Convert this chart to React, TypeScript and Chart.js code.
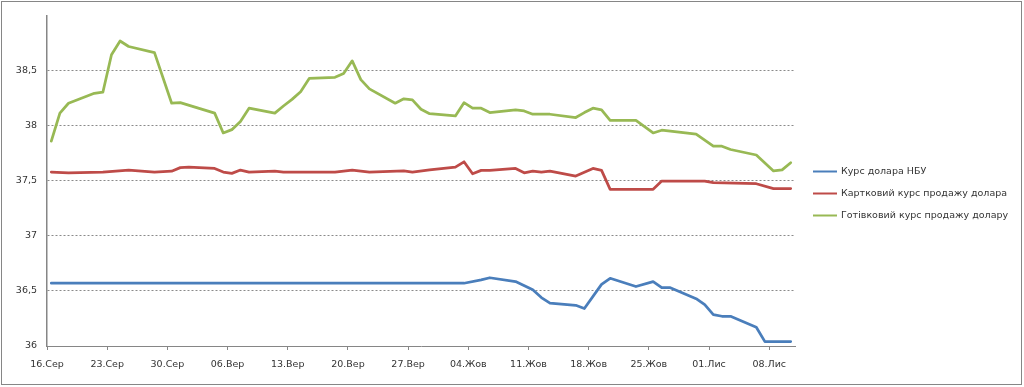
import React, { useEffect, useRef } from "react";
import { Chart, registerables } from "chart.js";

Chart.register(...registerables);

// Day offsets from 16 Aug (16.Сер = day 0)
const tickDays = [0, 7, 14, 21, 28, 35, 42, 49, 56, 63, 70, 77, 84];
const tickLabels = ["16.Сер", "23.Сер", "30.Сер", "06.Вер", "13.Вер", "20.Вер", "27.Вер", "04.Жов", "11.Жов", "18.Жов", "25.Жов", "01.Лис", "08.Лис"];
const yTicks = [36, 36.5, 37, 37.5, 38, 38.5];

const seriesLabels = ["Курс долара НБУ", "Картковий курс продажу долара", "Готівковий курс продажу долару"];
const seriesColors = ["#4A7EBB", "#BE4B48", "#98B954"];

const nbuDays = [0, 48, 50, 51, 54, 56, 57, 58, 61, 62, 64, 65, 68, 70, 71, 72, 75, 76, 77, 78, 79, 82, 83, 86];
const nbuVals = [36.57, 36.57, 36.6, 36.62, 36.585, 36.51, 36.44, 36.39, 36.37, 36.34, 36.56, 36.615, 36.54, 36.585, 36.53, 36.53, 36.43, 36.375, 36.285, 36.27, 36.27, 36.17, 36.04, 36.04];

const cardDays = [0, 2, 6, 9, 12, 14, 15, 16, 19, 20, 21, 22, 23, 26, 27, 33, 35, 37, 41, 42, 44, 47, 48, 49, 50, 51, 54, 55, 56, 57, 58, 61, 63, 64, 65, 70, 71, 76, 77, 82, 84, 86];
const cardVals = [37.58, 37.573, 37.58, 37.598, 37.58, 37.588, 37.62, 37.625, 37.613, 37.58, 37.568, 37.598, 37.58, 37.588, 37.58, 37.58, 37.598, 37.58, 37.59, 37.58, 37.6, 37.625, 37.673, 37.564, 37.595, 37.595, 37.613, 37.573, 37.589, 37.58, 37.589, 37.543, 37.613, 37.595, 37.423, 37.423, 37.498, 37.498, 37.483, 37.474, 37.43, 37.43];

const cashDays = [0, 1, 2, 5, 6, 7, 8, 9, 12, 14, 15, 19, 20, 21, 22, 23, 26, 27, 28, 29, 30, 33, 34, 35, 36, 37, 40, 41, 42, 43, 44, 47, 48, 49, 50, 51, 54, 55, 56, 58, 61, 62, 63, 64, 65, 68, 70, 71, 75, 77, 78, 79, 82, 84, 85, 86];
const cashVals = [37.86, 38.115, 38.205, 38.295, 38.305, 38.645, 38.77, 38.72, 38.665, 38.205, 38.21, 38.115, 37.935, 37.965, 38.04, 38.16, 38.115, 38.18, 38.24, 38.31, 38.43, 38.44, 38.475, 38.59, 38.42, 38.335, 38.205, 38.245, 38.235, 38.15, 38.11, 38.09, 38.21, 38.16, 38.16, 38.12, 38.145, 38.135, 38.105, 38.105, 38.075, 38.12, 38.16, 38.145, 38.05, 38.05, 37.935, 37.96, 37.925, 37.815, 37.815, 37.785, 37.735, 37.59, 37.6, 37.665];

const FONT = "'DejaVu Sans', sans-serif";
const FONT_SIZE = 9.5;

const toPoints = (days: number[], vals: number[]) => days.map((d, i) => ({ x: d + 0.5, y: vals[i] }));

export default function App() {
  const ref = useRef<HTMLCanvasElement | null>(null);

  useEffect(() => {
    document.body.style.margin = "0";
    const canvas = ref.current;
    if (!canvas) return;

    const framePlugin = {
      id: "frameLegend",
      afterDraw(chart: any) {
        const ctx = chart.ctx;
        ctx.save();
        ctx.strokeStyle = "#868686";
        ctx.lineWidth = 1;
        ctx.strokeRect(1.5, 1.5, 1020, 383);
        const ys = [171.5, 193.5, 215.5];
        chart.data.datasets.forEach((ds: any, i: number) => {
          ctx.strokeStyle = ds.borderColor;
          ctx.lineWidth = 2;
          ctx.beginPath();
          ctx.moveTo(813, ys[i]);
          ctx.lineTo(837, ys[i]);
          ctx.stroke();
          ctx.fillStyle = "#333";
          ctx.font = FONT_SIZE + "px " + FONT;
          ctx.textBaseline = "middle";
          ctx.textAlign = "left";
          ctx.fillText(ds.label, 841, ys[i]);
        });
        ctx.restore();
      },
    };

    const chart = new Chart(canvas, {
      type: "line",
      data: {
        datasets: [
          { label: seriesLabels[0], data: toPoints(nbuDays, nbuVals), borderColor: seriesColors[0], backgroundColor: seriesColors[0] },
          { label: seriesLabels[1], data: toPoints(cardDays, cardVals), borderColor: seriesColors[1], backgroundColor: seriesColors[1] },
          { label: seriesLabels[2], data: toPoints(cashDays, cashVals), borderColor: seriesColors[2], backgroundColor: seriesColors[2] },
        ],
      },
      options: {
        responsive: false,
        animation: false,
        devicePixelRatio: 1,
        layout: { padding: { left: 7, top: 14, right: 229, bottom: 11 } },
        elements: {
          point: { radius: 0 },
          line: { borderWidth: 2.75, tension: 0, borderCapStyle: "round", borderJoinStyle: "round" },
        },
        plugins: { legend: { display: false }, tooltip: { enabled: false } },
        scales: {
          x: {
            type: "linear",
            min: 0,
            max: 87,
            afterBuildTicks: (scale: any) => {
              scale.ticks = tickDays.map((v) => ({ value: v }));
            },
            afterFit: (scale: any) => {
              scale.height = 30;
            },
            grid: { drawOnChartArea: false, drawTicks: true, tickLength: 4, color: "#868686" },
            border: { color: "#868686", width: 1 },
            ticks: {
              autoSkip: false,
              maxRotation: 0,
              padding: 9,
              color: "#333",
              font: { family: FONT, size: FONT_SIZE },
              callback: (v: any) => {
                const i = tickDays.indexOf(Number(v));
                return i >= 0 ? tickLabels[i] : "";
              },
            },
          },
          y: {
            min: 36,
            max: 39,
            afterBuildTicks: (scale: any) => {
              scale.ticks = yTicks.map((v) => ({ value: v }));
            },
            afterFit: (scale: any) => {
              scale.width = 40;
            },
            grid: {
              drawTicks: false,
              color: (c: any) => (c.tick && c.tick.value === 36 ? "rgba(0,0,0,0)" : "#8a8a8a"),
              lineWidth: 1,
            },
            border: { color: "#868686", width: 1.5, dash: [2, 2] },
            ticks: {
              padding: 10,
              color: "#333",
              font: { family: FONT, size: FONT_SIZE },
              callback: (v: any) => String(v).replace(".", ","),
            },
          },
        },
      },
      plugins: [framePlugin],
    } as any);

    return () => chart.destroy();
  }, []);

  return (
    <div style={{ width: 1024, height: 387, background: "#fff" }}>
      <canvas ref={ref} width={1024} height={387} style={{ display: "block" }} />
    </div>
  );
}
